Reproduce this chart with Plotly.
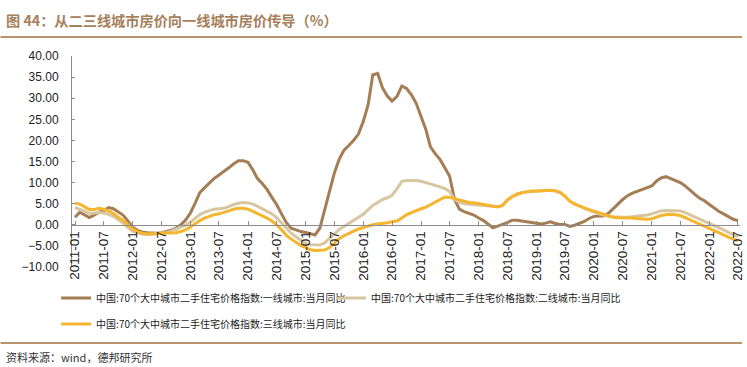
import plotly.graph_objects as go
import pandas as pd

# ---------------- data ----------------
months = pd.date_range("2011-01-01", "2022-07-01", freq="MS")

tier1 = [1.8, 3.0, 2.4, 1.7, 2.3, 3.0, 3.3, 4.1, 3.8, 3.1, 2.3, 1.0,
         -0.6, -1.3, -1.7, -1.9, -2.0, -2.0, -1.9, -1.6, -1.3, -0.8, 0.0, 1.1,
         2.8, 5.2, 7.6, 8.8, 10.0, 11.0, 11.8, 12.6, 13.5, 14.4, 15.2, 15.2,
         14.8, 13.0, 11.0, 9.8, 8.4, 6.5, 4.8, 2.6, 0.5, -0.8, -1.3, -1.6,
         -1.8, -2.1, -2.4, -0.8, 3.5, 8.0, 12.2, 15.5, 17.7, 18.8, 20.0, 21.5,
         24.5, 28.5, 35.5, 35.9, 32.5, 30.5, 29.3, 30.4, 32.9, 32.3, 30.8, 28.8,
         25.5, 22.5, 18.5, 16.8, 15.5, 13.5, 11.5, 6.0, 3.7, 3.1, 2.7, 2.3,
         1.6, 1.0, 0.2, -0.7, -0.3, 0.1, 0.5, 1.1, 1.1, 0.9, 0.7, 0.5,
         0.3, 0.2, 0.4, 0.7, 0.3, 0.1, 0.1, -0.4, -0.1, 0.4, 0.8, 1.5,
         2.0, 2.1, 2.1, 2.7, 3.9, 4.9, 6.0, 6.9, 7.5, 7.9, 8.3, 8.7,
         9.2, 10.4, 11.1, 11.4, 11.0, 10.5, 10.0, 9.2, 8.1, 7.2, 6.3, 5.7,
         4.8, 3.9, 3.2, 2.6, 2.0, 1.3, 1.0]

tier2 = [4.1, 3.6, 3.1, 2.7, 2.8, 2.9, 2.8, 2.5, 2.0, 1.3, 0.4, -0.6,
         -1.5, -1.9, -2.2, -2.3, -2.2, -2.0, -1.9, -1.8, -1.5, -1.1, -0.6, -0.1,
         0.6, 1.6, 2.4, 3.0, 3.4, 3.7, 3.8, 3.9, 4.3, 4.8, 5.1, 5.3,
         5.2, 4.9, 4.4, 3.8, 3.2, 2.6, 1.7, 0.4, -0.8, -2.0, -2.9, -3.6,
         -4.4, -4.7, -4.8, -4.8, -4.3, -3.3, -2.2, -1.1, -0.4, 0.3, 1.0, 1.7,
         2.5, 3.6, 4.6, 5.3, 6.0, 6.4, 7.0, 8.5, 10.3, 10.5, 10.5, 10.5,
         10.3, 10.0, 9.6, 9.3, 9.0, 8.6, 7.9, 6.0, 5.3, 5.0, 4.9, 4.8,
         4.7, 4.6, 4.5, 4.3, 4.3, 4.6, 5.8, 6.6, 7.2, 7.6, 7.8, 7.9,
         8.0, 8.0, 8.1, 8.1, 8.0, 7.6, 6.8, 5.6, 4.9, 4.4, 3.9, 3.4,
         3.0, 2.6, 2.3, 2.0, 1.9, 1.8, 1.8, 1.8, 1.9, 2.0, 2.1, 2.3,
         2.6, 3.0, 3.3, 3.4, 3.4, 3.4, 3.3, 2.9, 2.4, 1.9, 1.4, 0.9,
         0.4, -0.1, -0.6, -1.2, -1.8, -2.4, -2.8]

tier3 = [5.1, 4.9, 4.3, 3.6, 3.6, 3.9, 3.7, 3.3, 2.7, 1.8, 1.1, 0.0,
         -1.0, -1.6, -2.0, -2.2, -2.2, -2.1, -2.0, -2.0, -2.0, -1.9, -1.6, -1.2,
         -0.5, 0.3, 1.0, 1.6, 2.0, 2.4, 2.6, 2.9, 3.3, 3.7, 3.9, 3.9,
         3.7, 3.2, 2.7, 2.2, 1.6, 0.9, 0.0, -1.2, -2.5, -3.4, -4.2, -4.9,
         -5.4, -5.9, -6.1, -6.1, -6.0, -5.4, -4.4, -3.3, -2.6, -2.0, -1.5, -1.0,
         -0.6, -0.3, 0.0, 0.2, 0.3, 0.5, 0.7, 0.9, 1.6, 2.4, 2.9, 3.4,
         3.8, 4.2, 4.8, 5.4, 6.0, 6.6, 6.5, 6.2, 5.8, 5.5, 5.3, 5.2,
         5.0, 4.8, 4.6, 4.3, 4.2, 4.6, 5.9, 6.7, 7.3, 7.6, 7.8, 8.0,
         8.0, 8.1, 8.2, 8.2, 8.1, 7.7, 6.8, 5.6, 4.9, 4.4, 4.0, 3.6,
         3.2, 2.8, 2.4, 2.0, 1.8, 1.7, 1.7, 1.6, 1.6, 1.5, 1.4, 1.3,
         1.4, 1.8, 2.2, 2.4, 2.5, 2.4, 2.2, 1.7, 1.2, 0.7, 0.2, -0.3,
         -0.8, -1.3, -1.8, -2.4, -2.9, -3.4, -3.8]

names = ["中国:70个大中城市二手住宅价格指数:一线城市:当月同比",
         "中国:70个大中城市二手住宅价格指数:二线城市:当月同比",
         "中国:70个大中城市二手住宅价格指数:三线城市:当月同比"]

title_text = "图 44：从二三线城市房价向一线城市房价传导（%）"
source_text = "资料来源：wind，德邦研究所"

# ---------------- styles ----------------
W, H = 747, 367
ML, MR, MT, MB = 72, 2, 56, 100
PW, PH = W - ML - MR, H - MT - MB

def px_x(p):
    return (p - ML) / PW

def px_y(p):
    return (H - MB - p) / PH

colors = ["#A57D55", "#D8C6A0", "#F5B52E"]
brown = "#A6805A"
cjk = "Noto Sans CJK SC"
latin = "Liberation Sans, Arial"

fig = go.Figure()
for vals, nm, col, lg in zip([tier1, tier2, tier3], names, colors,
                             ["legend", "legend3", "legend2"]):
    fig.add_trace(go.Scatter(x=months, y=vals, mode="lines", name=nm,
                             line=dict(color=col, width=3), legend=lg))

leg_common = dict(orientation="h", xanchor="left", yanchor="middle",
                  font=dict(family=cjk, size=10, color="#222"),
                  bgcolor="rgba(0,0,0,0)", itemwidth=30)

fig.update_layout(
    width=W, height=H,
    margin=dict(l=ML, r=MR, t=MT, b=MB),
    paper_bgcolor="white", plot_bgcolor="white",
    xaxis=dict(
        type="date",
        range=["2010-12-13", "2022-07-14"],
        tickmode="linear", tick0="2011-01-01", dtick="M6",
        tickformat="%Y-%m", tickangle=-90,
        ticks="inside", ticklen=4, tickcolor="#8c8c8c",
        showline=True, linecolor="#8c8c8c", linewidth=1,
        showgrid=False, zeroline=False,
        anchor="free", position=0.2,
        ticklabeloverflow="allow",
        tickfont=dict(family=latin, size=13.5, color="#222"),
    ),
    yaxis=dict(
        range=[-10, 40], dtick=5, tickformat=".2f",
        ticks="inside", ticklen=3, tickcolor="#8c8c8c",
        showline=True, linecolor="#8c8c8c", linewidth=1,
        showgrid=False, zeroline=False,
        ticklabelstandoff=10,
        tickfont=dict(family=latin, size=12, color="#222"),
    ),
    legend=dict(x=px_x(56), y=px_y(298), **leg_common),
    legend3=dict(x=px_x(333), y=px_y(298), **leg_common),
    legend2=dict(x=px_x(56), y=px_y(324), **leg_common),
    showlegend=True,
)

fig.add_annotation(text="<b>" + title_text + "</b>", xref="paper", yref="paper",
                   x=px_x(3), y=px_y(20), xanchor="left", yanchor="middle",
                   showarrow=False, font=dict(family=cjk, size=14.2, color=brown))
fig.add_annotation(text=source_text, xref="paper", yref="paper",
                   x=px_x(3), y=px_y(357), xanchor="left", yanchor="middle",
                   showarrow=False, font=dict(family=cjk, size=11, color="#333"))
for py in (37, 343):
    fig.add_shape(type="line", xref="paper", yref="paper",
                  x0=px_x(0), x1=px_x(W), y0=px_y(py), y1=px_y(py),
                  line=dict(color="#B8946E", width=2))

fig.write_html("out.html",
               config={"displayModeBar": False},
               post_script="document.body.style.margin='0';"
                           "document.documentElement.style.overflow='hidden';")
